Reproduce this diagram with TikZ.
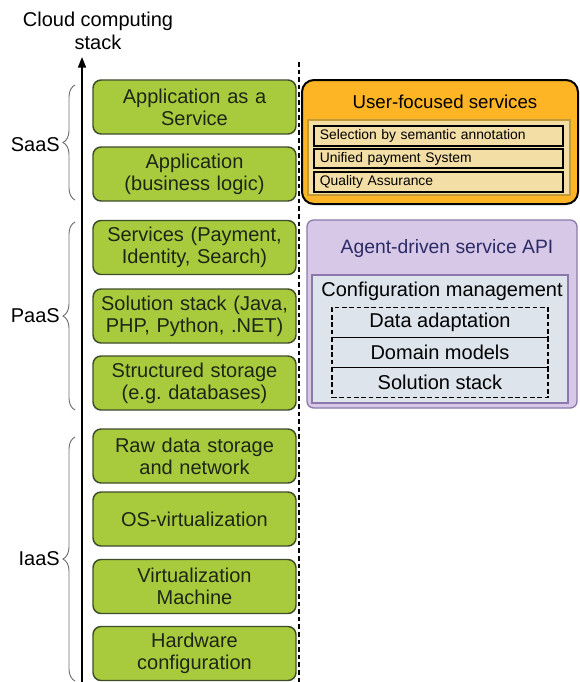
\documentclass[tikz,border=0pt]{standalone}
\usepackage{fontspec}
\setmainfont{Liberation Sans}
\usetikzlibrary{arrows.meta,decorations.pathreplacing}

\definecolor{layergreen}{HTML}{A8CB3E}
\definecolor{layeredge}{HTML}{3F4C2A}
\definecolor{layertext}{HTML}{1E2616}
\definecolor{userorange}{HTML}{FDB526}
\definecolor{userpanel}{HTML}{F3DEA6}
\definecolor{userpaneledge}{HTML}{C39A3A}
\definecolor{agentfill}{HTML}{D7C8E7}
\definecolor{agentedge}{HTML}{8C78AC}
\definecolor{agentinner}{HTML}{DDE4EC}
\definecolor{agenttext}{HTML}{2B2B66}
\definecolor{bracegrey}{HTML}{707070}

\tikzset{
  layer/.style={draw=layeredge, line width=1.1pt, fill=layergreen,
    rounded corners=6pt, minimum width=152.25pt, minimum height=40.5pt,
    text width=150pt, align=center, inner sep=0pt, text=layertext,
    font=\fontsize{15}{16.5}\selectfont},
  itembox/.style={draw=black, line width=1.5pt, fill=userpanel,
    minimum width=186.75pt, minimum height=14.5pt, text width=178pt,
    align=left, inner sep=0pt, font=\fontsize{10.4}{12}\selectfont},
  dashbox/.style={draw=black, dashed, dash pattern=on 3.5pt off 2pt,
    line width=0.8pt, minimum width=162pt, minimum height=22.5pt,
    inner sep=0pt, font=\fontsize{15}{16.5}\selectfont},
  tier/.style={anchor=east, inner sep=0pt, font=\fontsize{15}{16.5}\selectfont},
  tierbrace/.style={draw=bracegrey, line width=0.7pt,
    decorate, decoration={brace, amplitude=9pt}},
}

\begin{document}
\frenchspacing
\begin{tikzpicture}[x=0.75pt, y=-0.75pt]
\useasboundingbox (0,0) rectangle (579,682);

% axis of the stack
\coordinate (axisbottom) at (82,682);
\coordinate (axistop) at (82,57);
\draw[line width=1.2pt, -{Triangle[length=8pt,width=6pt]}] (axisbottom) -- (axistop);
\node[align=center, inner sep=0pt, font=\fontsize{15}{17.5}\selectfont] (axislabel) at (98,31)
  {Cloud computing\\stack};

% separator between stack and services
\coordinate (septop) at (299,62);
\coordinate (sepbottom) at (299,682);
\draw[line width=1pt, dash pattern=on 3.5pt off 2.2pt] (septop) -- (sepbottom);

% layers of the stack
\node[layer] (aas)  at (194.5,107)   {Application as a\\Service};
\node[layer] (biz)  at (194.5,174)   {Application\\(business logic)};
\node[layer] (svc)  at (194.5,247.5) {Services (Payment,\\Identity, Search)};
\node[layer] (sol)  at (194.5,316)   {Solution stack (Java,\\PHP, Python, .NET)};
\node[layer] (sto)  at (194.5,383)   {Structured storage\\(e.g. databases)};
\node[layer] (raw)  at (194.5,456)   {Raw data storage\\and network};
\node[layer] (osv)  at (194.5,519)   {OS-virtualization};
\node[layer] (vm)   at (194.5,586.5) {Virtualization\\Machine};
\node[layer] (hw)   at (194.5,653.5) {Hardware\\configuration};

% service tiers
\coordinate (saasb) at (75,200);
\coordinate (saast) at (75,85);
\coordinate (paasb) at (75,410);
\coordinate (paast) at (75,222);
\coordinate (iaasb) at (75,681);
\coordinate (iaast) at (75,437);
\draw[tierbrace] (saasb) -- (saast);
\draw[tierbrace] (paasb) -- (paast);
\draw[tierbrace] (iaasb) -- (iaast);
\node[tier] (saas) at (60,145) {SaaS};
\node[tier] (paas) at (60,316) {PaaS};
\node[tier] (iaas) at (60,559) {IaaS};

% user-focused services
\node[draw=black, line width=1.5pt, fill=userorange, rounded corners=9pt,
      minimum width=207pt, minimum height=93pt, inner sep=0pt] (ufs) at (440,142) {};
\node[font=\fontsize{14}{16}\selectfont, inner sep=0pt] (ufstitle) at (445,102) {User-focused services};
\node[draw=userpaneledge, line width=1.4pt, fill=userpanel,
      minimum width=196.5pt, minimum height=56.25pt, inner sep=0pt] (ufspanel) at (439,157.5) {};
\node[itembox] (sel) at (438.5,136)   {Selection by semantic annotation};
\node[itembox] (pay) at (438.5,158.5) {Unified payment System};
\node[itembox] (qa)  at (438.5,182)   {Quality Assurance};

% agent-driven service API
\node[draw=agentedge, line width=1pt, fill=agentfill, rounded corners=5pt,
      minimum width=202.5pt, minimum height=141pt, inner sep=0pt] (api) at (442,314) {};
\node[text=agenttext, font=\fontsize{14.5}{16}\selectfont, inner sep=0pt] (apititle) at (447,248) {Agent-driven service API};
\node[draw=agentedge, line width=0.9pt, fill=agentinner,
      minimum width=192pt, minimum height=96pt, inner sep=0pt] (cfg) at (440,339) {};
\node[font=\fontsize{15}{16.5}\selectfont, inner sep=0pt] (cfgtitle) at (442,291) {Configuration management};
\node[dashbox] (dat) at (440,322.5) {Data adaptation};
\node[dashbox] (dom) at (440,352.5) {Domain models};
\node[dashbox] (sst) at (440,382.5) {Solution stack};
\end{tikzpicture}
\end{document}
